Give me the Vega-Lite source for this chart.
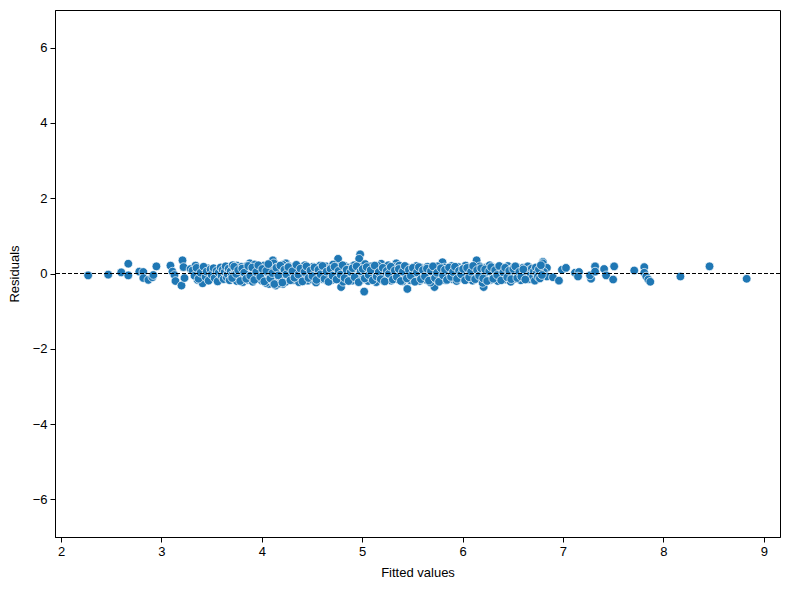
{
  "$schema": "https://vega.github.io/schema/vega-lite/v6.json",
  "width": 725,
  "height": 527,
  "autosize": "none",
  "padding": {"left": 55, "top": 10, "right": 10, "bottom": 53},
  "background": "white",
  "config": {
    "font": "Liberation Sans",
    "view": {"stroke": "black", "strokeWidth": 1},
    "axis": {"grid": false, "domainColor": "black", "tickColor": "black", "tickSize": 5, "labelColor": "black", "titleColor": "black", "labelFontSize": 13, "titleFontSize": 13, "titleFontWeight": "normal", "labelPadding": 3, "labelFont": "Liberation Sans", "titleFont": "Liberation Sans"}
  },
  "datasets": {
    "pts": [
      {"x":2.27,"y":-0.05},{"x":2.47,"y":-0.03},{"x":2.60,"y":0.03},{"x":2.67,"y":0.26},{"x":2.67,"y":-0.05},{"x":2.78,"y":0.05},{"x":2.82,"y":0.04},{"x":2.82,"y":-0.12},{"x":2.87,"y":-0.17},{"x":2.91,"y":-0.10},{"x":2.95,"y":0.19},{"x":2.92,"y":-0.04},
      {"x":3.09,"y":0.21},{"x":3.11,"y":0.05},{"x":3.13,"y":-0.04},{"x":3.14,"y":-0.20},{"x":3.20,"y":-0.32},{"x":3.21,"y":0.35},{"x":3.22,"y":0.17},{"x":3.23,"y":-0.12},{"x":3.29,"y":0.12},{"x":3.34,"y":0.21},{"x":3.36,"y":-0.17},{"x":3.41,"y":-0.26},{"x":3.46,"y":0.14},{"x":3.48,"y":-0.12},{"x":3.58,"y":0.04},{"x":3.61,"y":-0.08},{"x":3.68,"y":0.17},{"x":3.75,"y":0.21},{"x":3.81,"y":-0.23},{"x":3.88,"y":0.27},{"x":3.91,"y":-0.14},{"x":4.07,"y":-0.28},{"x":4.11,"y":0.35},{"x":4.14,"y":-0.32},{"x":4.21,"y":-0.28},{"x":4.24,"y":0.27},
      {"x":4.76,"y":0.39},{"x":4.98,"y":0.51},{"x":4.97,"y":0.39},{"x":5.02,"y":-0.48},{"x":4.79,"y":-0.36},{"x":5.45,"y":-0.41},{"x":5.72,"y":-0.36},{"x":6.14,"y":0.35},{"x":6.21,"y":-0.36},{"x":6.80,"y":0.31},{"x":5.80,"y":0.30},{"x":5.19,"y":0.26},{"x":5.34,"y":0.27},
      {"x":6.80,"y":0.27},{"x":6.84,"y":0.15},{"x":6.81,"y":0.04},{"x":6.84,"y":-0.08},{"x":6.90,"y":-0.10},{"x":6.96,"y":-0.19},{"x":6.99,"y":0.10},{"x":7.03,"y":0.15},{"x":7.12,"y":0.02},{"x":7.16,"y":0.04},{"x":7.15,"y":-0.08},{"x":7.28,"y":-0.14},{"x":7.27,"y":-0.05},{"x":7.32,"y":0.19},{"x":7.32,"y":0.05},{"x":7.41,"y":0.12},{"x":7.43,"y":-0.05},{"x":7.50,"y":-0.16},{"x":7.51,"y":0.19},{"x":7.71,"y":0.08},{"x":7.81,"y":0.17},{"x":7.81,"y":0.02},{"x":7.83,"y":-0.08},{"x":7.85,"y":-0.16},{"x":7.87,"y":-0.22},{"x":8.17,"y":-0.08},{"x":8.46,"y":0.19},{"x":8.83,"y":-0.14},
      {"x":3.31,"y":0.08},{"x":3.33,"y":-0.06},{"x":3.35,"y":0.15},{"x":3.37,"y":-0.14},{"x":3.39,"y":0.02},{"x":3.42,"y":0.18},{"x":3.44,"y":-0.09},{"x":3.45,"y":0.05},{"x":3.47,"y":-0.19},{"x":3.49,"y":0.11},{"x":3.50,"y":-0.03},{"x":3.52,"y":0.14},{"x":3.53,"y":-0.12},{"x":3.55,"y":0.07},{"x":3.56,"y":-0.21},{"x":3.57,"y":0.02},
      {"x":3.59,"y":0.16},{"x":3.60,"y":-0.07},{"x":3.61,"y":0.10},{"x":3.62,"y":-0.15},{"x":3.63,"y":0.04},{"x":3.64,"y":0.19},{"x":3.65,"y":-0.10},{"x":3.66,"y":-0.02},{"x":3.67,"y":0.13},{"x":3.68,"y":-0.18},{"x":3.69,"y":0.06},{"x":3.70,"y":-0.05},{"x":3.71,"y":0.22},{"x":3.72,"y":-0.13},{"x":3.73,"y":0.01},{"x":3.74,"y":0.09},{"x":3.75,"y":-0.20},{"x":3.76,"y":0.15},{"x":3.77,"y":-0.08},{"x":3.78,"y":0.03},{"x":3.79,"y":-0.16},{"x":3.80,"y":0.18},{"x":3.81,"y":0.07},{"x":3.82,"y":-0.11},{"x":3.83,"y":0.12},{"x":3.84,"y":-0.03},{"x":3.85,"y":0.20},{"x":3.86,"y":-0.17},{"x":3.87,"y":0.05},{"x":3.88,"y":-0.09},{"x":3.89,"y":0.14},{"x":3.90,"y":0.00},{"x":3.91,"y":-0.22},{"x":3.92,"y":0.10},{"x":3.93,"y":0.24},{"x":3.94,"y":-0.06},{"x":3.95,"y":0.08},{"x":3.96,"y":-0.14},{"x":3.97,"y":0.17},{"x":3.98,"y":-0.01},{"x":3.99,"y":0.11},{"x":4.00,"y":-0.19},
      {"x":4.01,"y":0.06},{"x":4.02,"y":0.21},{"x":4.03,"y":-0.10},{"x":4.04,"y":-0.25},{"x":4.05,"y":0.13},{"x":4.06,"y":0.02},{"x":4.07,"y":-0.15},{"x":4.08,"y":0.19},{"x":4.09,"y":-0.04},{"x":4.10,"y":0.09},{"x":4.11,"y":-0.20},{"x":4.12,"y":0.27},{"x":4.13,"y":0.04},{"x":4.14,"y":-0.12},{"x":4.15,"y":0.16},{"x":4.16,"y":-0.07},{"x":4.17,"y":-0.27},{"x":4.18,"y":0.11},{"x":4.19,"y":0.00},{"x":4.20,"y":-0.16},{"x":4.21,"y":0.23},{"x":4.22,"y":-0.09},{"x":4.23,"y":0.07},{"x":4.24,"y":-0.22},{"x":4.25,"y":0.14},{"x":4.26,"y":-0.02},{"x":4.27,"y":0.19},{"x":4.28,"y":-0.13},{"x":4.29,"y":0.05},{"x":4.30,"y":-0.06},{"x":4.31,"y":0.12},{"x":4.32,"y":-0.18},{"x":4.33,"y":0.20},{"x":4.34,"y":0.03},{"x":4.35,"y":-0.10},{"x":4.36,"y":0.15},{"x":4.37,"y":-0.23},{"x":4.38,"y":0.08},{"x":4.39,"y":-0.04},{"x":4.40,"y":0.17},{"x":4.41,"y":-0.14},{"x":4.42,"y":0.01},{"x":4.43,"y":0.22},{"x":4.44,"y":-0.08},{"x":4.45,"y":0.10},{"x":4.46,"y":-0.19},{"x":4.47,"y":0.06},{"x":4.48,"y":-0.01},{"x":4.49,"y":0.13},{"x":4.50,"y":-0.16},
      {"x":4.51,"y":0.18},{"x":4.52,"y":-0.05},{"x":4.53,"y":0.09},{"x":4.54,"y":-0.24},{"x":4.55,"y":0.02},{"x":4.56,"y":0.15},{"x":4.57,"y":-0.11},{"x":4.58,"y":0.21},{"x":4.59,"y":-0.07},{"x":4.60,"y":0.04},{"x":4.61,"y":-0.15},{"x":4.62,"y":0.11},{"x":4.63,"y":-0.02},{"x":4.64,"y":0.19},{"x":4.65,"y":-0.20},{"x":4.66,"y":0.07},{"x":4.67,"y":-0.09},{"x":4.68,"y":0.14},{"x":4.69,"y":0.00},{"x":4.70,"y":-0.17},{"x":4.71,"y":0.24},{"x":4.72,"y":-0.04},{"x":4.73,"y":0.10},{"x":4.74,"y":-0.13},{"x":4.75,"y":0.05},{"x":4.77,"y":0.17},{"x":4.78,"y":-0.10},{"x":4.80,"y":0.12},{"x":4.81,"y":-0.22},{"x":4.82,"y":0.03},{"x":4.83,"y":0.20},{"x":4.84,"y":-0.06},{"x":4.85,"y":0.09},{"x":4.86,"y":-0.15},{"x":4.87,"y":0.16},{"x":4.88,"y":-0.01},{"x":4.89,"y":0.13},{"x":4.90,"y":-0.19},{"x":4.91,"y":0.06},{"x":4.92,"y":0.22},{"x":4.93,"y":-0.08},{"x":4.94,"y":0.02},{"x":4.95,"y":-0.12},{"x":4.96,"y":0.15},{"x":4.97,"y":-0.03},{"x":4.99,"y":0.18},{"x":5.00,"y":-0.16},
      {"x":5.01,"y":0.08},{"x":5.03,"y":0.25},{"x":5.04,"y":-0.09},{"x":5.05,"y":0.04},{"x":5.06,"y":-0.20},{"x":5.07,"y":0.12},{"x":5.08,"y":-0.02},{"x":5.09,"y":0.19},{"x":5.10,"y":-0.13},{"x":5.11,"y":0.07},{"x":5.12,"y":-0.06},{"x":5.13,"y":0.14},{"x":5.14,"y":-0.23},{"x":5.15,"y":0.01},{"x":5.16,"y":0.20},{"x":5.17,"y":-0.10},{"x":5.18,"y":0.10},{"x":5.20,"y":-0.17},{"x":5.21,"y":0.05},{"x":5.22,"y":0.16},{"x":5.23,"y":-0.04},{"x":5.24,"y":0.11},{"x":5.25,"y":-0.14},{"x":5.26,"y":0.22},{"x":5.27,"y":-0.08},{"x":5.28,"y":0.03},{"x":5.29,"y":-0.19},{"x":5.30,"y":0.13},{"x":5.31,"y":-0.01},{"x":5.32,"y":0.17},{"x":5.33,"y":-0.11},{"x":5.35,"y":0.06},{"x":5.36,"y":-0.16},{"x":5.37,"y":0.21},{"x":5.38,"y":-0.05},{"x":5.39,"y":0.09},{"x":5.40,"y":-0.21},{"x":5.41,"y":0.14},{"x":5.42,"y":0.00},{"x":5.43,"y":-0.12},{"x":5.44,"y":0.18},{"x":5.46,"y":-0.07},{"x":5.47,"y":0.08},{"x":5.48,"y":-0.18},{"x":5.49,"y":0.12},{"x":5.50,"y":-0.03},
      {"x":5.51,"y":0.16},{"x":5.52,"y":-0.14},{"x":5.53,"y":0.04},{"x":5.54,"y":0.20},{"x":5.55,"y":-0.09},{"x":5.56,"y":0.10},{"x":5.57,"y":-0.20},{"x":5.58,"y":0.02},{"x":5.59,"y":0.15},{"x":5.60,"y":-0.11},{"x":5.61,"y":0.07},{"x":5.62,"y":-0.02},{"x":5.63,"y":0.13},{"x":5.64,"y":-0.17},{"x":5.65,"y":0.18},{"x":5.66,"y":-0.05},{"x":5.67,"y":0.09},{"x":5.68,"y":-0.24},{"x":5.69,"y":0.05},{"x":5.70,"y":0.14},{"x":5.71,"y":-0.10},{"x":5.73,"y":0.03},{"x":5.74,"y":-0.15},{"x":5.75,"y":0.19},{"x":5.76,"y":-0.06},{"x":5.77,"y":0.11},{"x":5.78,"y":-0.13},{"x":5.79,"y":0.06},{"x":5.81,"y":-0.02},{"x":5.82,"y":0.16},{"x":5.83,"y":-0.18},{"x":5.84,"y":0.08},{"x":5.85,"y":-0.08},{"x":5.86,"y":0.12},{"x":5.87,"y":-0.12},{"x":5.88,"y":0.02},{"x":5.89,"y":0.20},{"x":5.90,"y":-0.15},{"x":5.91,"y":0.09},{"x":5.92,"y":-0.04},{"x":5.93,"y":0.14},{"x":5.94,"y":-0.20},{"x":5.95,"y":0.05},{"x":5.96,"y":0.17},{"x":5.97,"y":-0.09},{"x":5.98,"y":0.10},{"x":5.99,"y":-0.13},{"x":6.00,"y":0.01},
      {"x":6.01,"y":0.15},{"x":6.02,"y":-0.07},{"x":6.03,"y":0.21},{"x":6.04,"y":-0.16},{"x":6.05,"y":0.06},{"x":6.06,"y":-0.03},{"x":6.07,"y":0.12},{"x":6.08,"y":-0.11},{"x":6.09,"y":0.18},{"x":6.10,"y":-0.19},{"x":6.11,"y":0.08},{"x":6.12,"y":-0.05},{"x":6.13,"y":0.14},{"x":6.15,"y":-0.14},{"x":6.16,"y":0.04},{"x":6.17,"y":0.19},{"x":6.18,"y":-0.08},{"x":6.19,"y":0.10},{"x":6.20,"y":-0.25},{"x":6.22,"y":0.02},{"x":6.23,"y":0.16},{"x":6.24,"y":-0.12},{"x":6.25,"y":0.07},{"x":6.26,"y":-0.02},{"x":6.27,"y":0.22},{"x":6.28,"y":-0.17},{"x":6.29,"y":0.11},{"x":6.30,"y":-0.06},{"x":6.31,"y":0.05},{"x":6.32,"y":0.15},{"x":6.33,"y":-0.10},{"x":6.34,"y":0.03},{"x":6.35,"y":-0.20},{"x":6.36,"y":0.13},{"x":6.37,"y":-0.04},{"x":6.38,"y":0.18},{"x":6.39,"y":-0.13},{"x":6.40,"y":0.08},{"x":6.41,"y":-0.07},{"x":6.42,"y":0.12},{"x":6.43,"y":-0.16},{"x":6.44,"y":0.02},{"x":6.45,"y":0.20},{"x":6.46,"y":-0.11},{"x":6.47,"y":0.09},{"x":6.48,"y":-0.22},{"x":6.49,"y":0.06},{"x":6.50,"y":0.14},
      {"x":6.51,"y":-0.05},{"x":6.52,"y":0.10},{"x":6.53,"y":-0.14},{"x":6.54,"y":0.17},{"x":6.55,"y":0.00},{"x":6.56,"y":-0.09},{"x":6.57,"y":0.12},{"x":6.58,"y":-0.18},{"x":6.59,"y":0.05},{"x":6.60,"y":0.15},{"x":6.61,"y":-0.06},{"x":6.62,"y":0.08},{"x":6.63,"y":-0.12},{"x":6.64,"y":0.03},{"x":6.65,"y":0.19},{"x":6.66,"y":-0.15},{"x":6.67,"y":0.10},{"x":6.68,"y":-0.03},{"x":6.69,"y":0.13},{"x":6.70,"y":-0.10},{"x":6.71,"y":0.06},{"x":6.72,"y":-0.19},{"x":6.73,"y":0.16},{"x":6.74,"y":0.01},{"x":6.75,"y":-0.08},{"x":6.76,"y":0.11},{"x":6.77,"y":-0.13},{"x":6.78,"y":0.22},{"x":6.79,"y":-0.04},
      {"x":3.705,"y":-0.12},{"x":3.725,"y":0.18},{"x":3.745,"y":-0.01},{"x":3.765,"y":0.09},{"x":3.785,"y":-0.20},{"x":3.805,"y":0.13},{"x":3.825,"y":0.02},{"x":3.845,"y":-0.14},{"x":3.865,"y":0.20},{"x":3.885,"y":-0.06},{"x":3.905,"y":0.16},{"x":3.925,"y":-0.17},{"x":3.945,"y":0.04},{"x":3.965,"y":0.22},{"x":3.985,"y":-0.09},{"x":4.005,"y":0.12},{"x":4.025,"y":-0.21},{"x":4.045,"y":0.07},{"x":4.065,"y":0.25},{"x":4.085,"y":-0.13},{"x":4.105,"y":0.01},{"x":4.125,"y":-0.28},{"x":4.145,"y":0.15},{"x":4.165,"y":-0.05},{"x":4.185,"y":0.21},{"x":4.205,"y":-0.24},{"x":4.225,"y":0.10},{"x":4.245,"y":-0.02},{"x":4.265,"y":0.17},{"x":4.285,"y":-0.18},{"x":4.305,"y":0.06},{"x":4.325,"y":-0.11},{"x":4.345,"y":0.23},{"x":4.365,"y":-0.03},{"x":4.385,"y":0.13},{"x":4.405,"y":-0.21},{"x":4.425,"y":0.04},{"x":4.445,"y":0.19},{"x":4.465,"y":-0.12},{"x":4.485,"y":0.08},{"x":4.505,"y":-0.07},{"x":4.525,"y":0.16},{"x":4.545,"y":-0.17},{"x":4.565,"y":0.10},{"x":4.585,"y":-0.02},{"x":4.605,"y":0.20},{"x":4.625,"y":-0.14},{"x":4.645,"y":0.05},{"x":4.665,"y":-0.22},{"x":4.685,"y":0.12},{"x":4.705,"y":-0.06},{"x":4.725,"y":0.18},{"x":4.745,"y":-0.16},{"x":4.765,"y":0.07},{"x":4.785,"y":-0.03},{"x":4.805,"y":0.22},{"x":4.825,"y":-0.12},{"x":4.845,"y":0.10},{"x":4.865,"y":-0.20},{"x":4.885,"y":0.04},{"x":4.905,"y":0.14},{"x":4.925,"y":-0.10},{"x":4.945,"y":0.19},{"x":4.965,"y":-0.23},{"x":4.985,"y":0.06},
      {"x":5.005,"y":0.12},{"x":5.025,"y":-0.13},{"x":5.045,"y":0.17},{"x":5.065,"y":-0.04},{"x":5.085,"y":0.09},{"x":5.105,"y":-0.18},{"x":5.125,"y":0.21},{"x":5.145,"y":-0.08},{"x":5.165,"y":0.04},{"x":5.185,"y":-0.15},{"x":5.205,"y":0.15},{"x":5.225,"y":-0.21},{"x":5.245,"y":0.07},{"x":5.265,"y":-0.01},{"x":5.285,"y":0.18},{"x":5.305,"y":-0.16},{"x":5.325,"y":0.08},{"x":5.345,"y":-0.09},{"x":5.365,"y":0.12},{"x":5.385,"y":-0.20},{"x":5.405,"y":0.05},{"x":5.425,"y":0.20},{"x":5.445,"y":-0.13},{"x":5.465,"y":0.10},{"x":5.485,"y":-0.06},{"x":5.505,"y":0.15},{"x":5.525,"y":-0.22},{"x":5.545,"y":0.03},{"x":5.565,"y":0.17},{"x":5.585,"y":-0.15},{"x":5.605,"y":0.09},{"x":5.625,"y":-0.08},{"x":5.645,"y":0.13},{"x":5.665,"y":-0.19},{"x":5.685,"y":0.06},{"x":5.705,"y":0.19},{"x":5.725,"y":-0.12},{"x":5.745,"y":0.02},{"x":5.765,"y":-0.22},{"x":5.785,"y":0.14},{"x":5.805,"y":-0.05},{"x":5.825,"y":0.10},{"x":5.845,"y":-0.17},{"x":5.865,"y":0.16},{"x":5.885,"y":-0.09},{"x":5.905,"y":0.04},{"x":5.925,"y":0.18},{"x":5.945,"y":-0.14},{"x":5.965,"y":0.07},{"x":5.985,"y":-0.02},
      {"x":6.005,"y":0.12},{"x":6.025,"y":-0.18},{"x":6.045,"y":0.15},{"x":6.065,"y":-0.10},{"x":6.085,"y":0.05},{"x":6.105,"y":0.20},{"x":6.125,"y":-0.15},{"x":6.145,"y":0.09},{"x":6.165,"y":-0.06},{"x":6.185,"y":0.14},{"x":6.205,"y":-0.13},{"x":6.225,"y":0.11},{"x":6.245,"y":-0.20},{"x":6.265,"y":0.06},{"x":6.285,"y":0.17},{"x":6.305,"y":-0.14},{"x":6.325,"y":0.09},{"x":6.345,"y":-0.04},{"x":6.365,"y":0.20},{"x":6.385,"y":-0.18},{"x":6.405,"y":0.03},{"x":6.425,"y":0.15},{"x":6.445,"y":-0.10},{"x":6.465,"y":0.07},{"x":6.485,"y":-0.15},{"x":6.505,"y":0.12},{"x":6.525,"y":0.19},{"x":6.545,"y":-0.12},{"x":6.565,"y":0.04},{"x":6.585,"y":-0.08},{"x":6.605,"y":0.11},{"x":6.625,"y":-0.16}
    ],
    "zero": [{"y": 0}]
  },
  "layer": [
    {
      "data": {"name": "pts"},
      "mark": {"type": "point", "filled": true, "shape": "circle", "size": 75, "color": "#1f77b4", "opacity": 1, "stroke": "white", "strokeWidth": 0.7},
      "encoding": {
        "x": {"field": "x", "type": "quantitative", "scale": {"domain": [1.94, 9.162], "nice": false, "zero": false}, "axis": {"values": [2,3,4,5,6,7,8,9], "title": "Fitted values", "titlePadding": 8}},
        "y": {"field": "y", "type": "quantitative", "scale": {"domain": [-7, 7], "nice": false, "zero": false}, "axis": {"values": [-6,-4,-2,0,2,4,6], "title": "Residuals", "titlePadding": 11}}
      }
    },
    {
      "data": {"name": "zero"},
      "mark": {"type": "rule", "color": "black", "strokeWidth": 1, "strokeDash": [4, 2]},
      "encoding": {"y": {"field": "y", "type": "quantitative"}}
    }
  ]
}
